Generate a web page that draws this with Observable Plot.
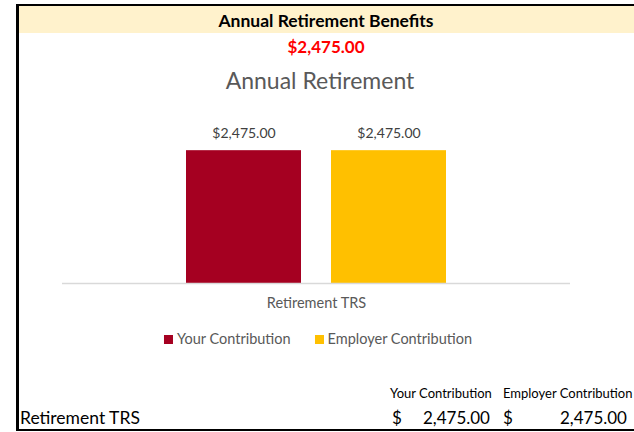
<!DOCTYPE html>
<html><head><meta charset="utf-8">
<script src="https://cdn.jsdelivr.net/npm/d3@7"></script>
<script src="https://cdn.jsdelivr.net/npm/@observablehq/plot@0.6"></script>
<style>
html,body{margin:0;padding:0;background:#fff;}
body{width:634px;height:432px;overflow:hidden;position:relative;font-family:Lato,"Noto Sans",sans-serif;}
.abs{position:absolute;white-space:nowrap;line-height:1;}
.c{transform:translateX(-50%);}
.r{transform:translateX(-100%);}
#chart{position:absolute;left:0;top:95px;}
.sw{display:inline-block;width:9px;height:9px;margin-right:4px;vertical-align:0px;}
</style></head><body>
<div class="abs" style="left:16px;top:4px;width:618px;height:427px;box-sizing:border-box;border-left:3px solid #000;border-top:2px solid #000;border-bottom:2px solid #000;"></div>
<div class="abs" style="left:19px;top:6px;width:615px;height:27px;background:#FFF2CC;"></div>
<div id="header" class="abs c" style="left:326px;top:11.5px;font-size:17.5px;font-weight:bold;color:#000;"></div>
<div id="total" class="abs c" style="left:326px;top:38px;font-size:17px;font-weight:bold;color:#FF0000;"></div>
<div id="title" class="abs c" style="left:320px;top:68.5px;font-size:23px;color:#595959;"></div>
<div id="chart"></div>
<div id="legend" class="abs c" style="left:318px;top:332px;font-size:14.5px;color:#595959;"></div>
<div id="table"></div>
<script>
const headerText = "Annual Retirement Benefits";
const titleText = "Annual Retirement";
const categories = ["Retirement TRS"];
const series = ["Your Contribution", "Employer Contribution"];
const values = [2475, 2475];
const total = 2475;
const colors = ["#A50021", "#FFC000"];
const yMax = 3000;

const fmt = d3.format("$,.2f");
const fmtNum = d3.format(",.2f");
const data = series.map((s, i) => ({category: categories[0], series: s, value: values[i]}));

document.getElementById("header").textContent = headerText;
document.getElementById("total").textContent = fmt(total);
document.getElementById("title").textContent = titleText;

const chart = Plot.plot({
  width: 634, height: 225,
  marginLeft: 62, marginRight: 64, marginTop: 27, marginBottom: 37,
  style: {fontFamily: "Lato, 'Noto Sans', sans-serif", fontSize: "14.5px", color: "#595959", background: "transparent"},
  fx: {domain: categories, padding: 0, label: null, tickSize: 0, tickPadding: 14, axis: "bottom"},
  x: {domain: series, paddingInner: 0.207, paddingOuter: 0.855, axis: null},
  y: {domain: [0, yMax], axis: null},
  color: {domain: series, range: colors},
  marks: [
    Plot.barY(data, {fx: "category", x: "series", y: "value", fill: "series"}),
    Plot.ruleY([0], {stroke: "#d9d9d9", strokeWidth: 1.5}),
    Plot.text(data, {fx: "category", x: "series", y: "value", text: d => fmt(d.value), dy: -13, fill: "#404040", fontSize: 14, lineAnchor: "bottom"})
  ]
});
document.getElementById("chart").appendChild(chart);

const legend = document.getElementById("legend");
series.forEach((s, i) => {
  const item = document.createElement("span");
  item.style.marginRight = i < series.length - 1 ? "24px" : "0";
  item.innerHTML = `<span class="sw" style="background:${colors[i]}"></span>${s}`;
  legend.appendChild(item);
});

const table = document.getElementById("table");
function addText(txt, left, top, size, cls) {
  const d = document.createElement("div");
  d.className = "abs " + (cls || "");
  d.style.left = left + "px"; d.style.top = top + "px"; d.style.fontSize = size + "px"; d.style.color = "#000";
  d.textContent = txt;
  table.appendChild(d);
}
addText(series[0], 390, 387, 13);
addText(series[1], 503, 387, 13);
addText(categories[0], 20, 409, 17.5);
addText("$", 392, 409, 17);
addText(fmtNum(values[0]), 490, 409, 17, "r");
addText("$", 503, 409, 17);
addText(fmtNum(values[1]), 627, 409, 17, "r");
</script>
</body></html>
